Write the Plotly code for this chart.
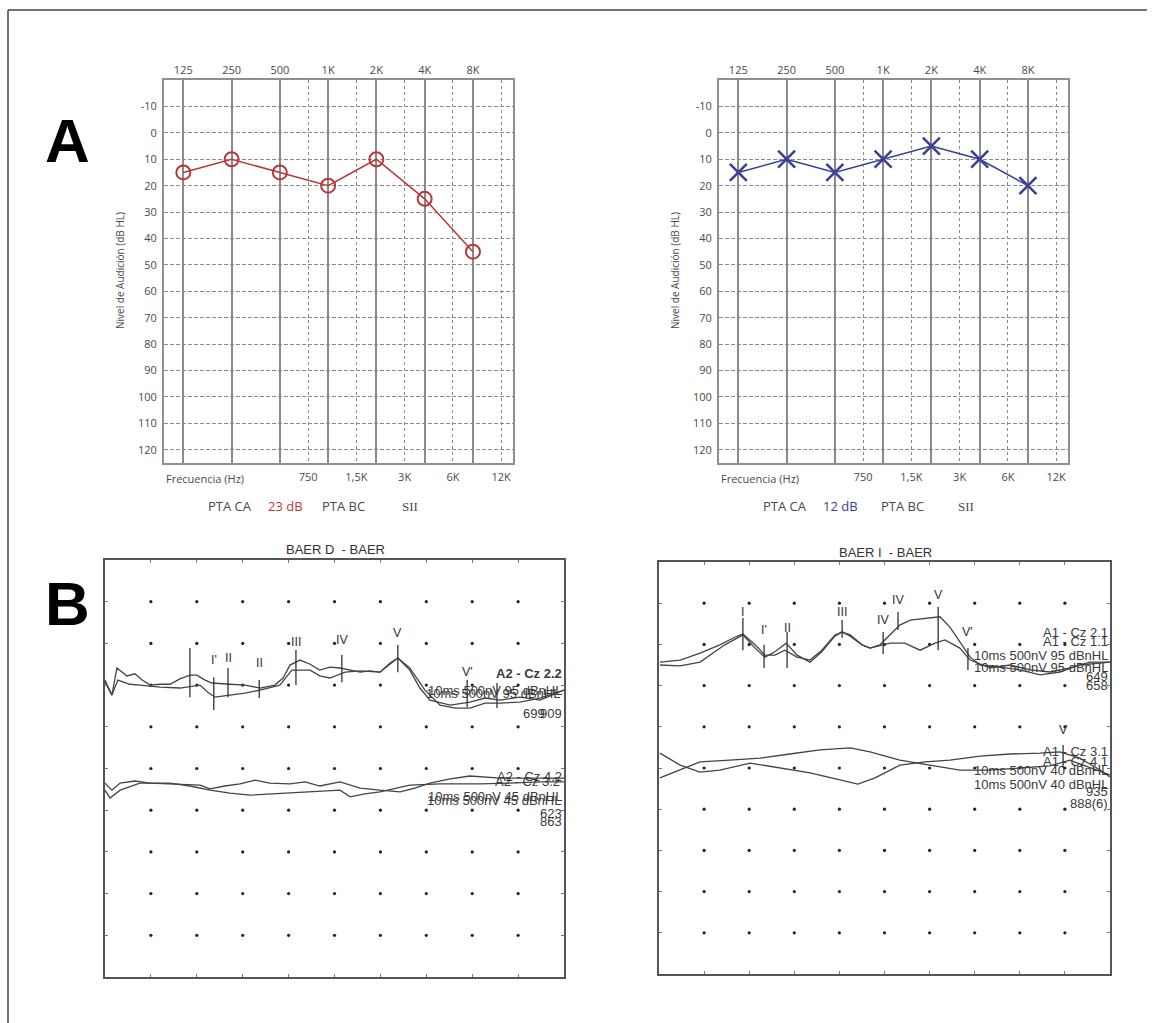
import numpy as np
import plotly.graph_objects as go

# ---------------- DATA ----------------
freqs = [125, 250, 500, 1000, 2000, 4000, 8000]
freq_labels_top = ["125", "250", "500", "1K", "2K", "4K", "8K"]
half_freqs = [750, 1500, 3000, 6000, 12000]
half_labels = ["750", "1,5K", "3K", "6K", "12K"]
db_ticks = list(range(-10, 121, 10))
db_labels = ["-10"] + [str(v) for v in range(0, 121, 10)]

od_db = [15, 10, 15, 20, 10, 25, 45]   # red circles
oi_db = [15, 10, 15, 10, 5, 10, 20]    # blue crosses

# BAER traces: time (ms), amplitude (grid divisions)
bd1_t = [0, 0.15, 0.26, 0.37, 0.48, 0.65, 0.81, 0.98, 1.20, 1.42, 1.63, 1.85, 2.00, 2.18, 2.33, 2.72, 3.05, 3.38, 3.70, 3.88,
         4.03, 4.25, 4.47, 4.68, 4.90, 5.12, 5.34, 5.56, 5.77, 5.99, 6.21, 6.38, 6.64, 6.86, 7.08, 7.52, 7.95, 8.28, 8.61, 9.04, 9.48, 10.0]
bd1_v = [7.07, 6.76, 7.41, 7.31, 7.22, 7.27, 7.12, 7.00, 7.02, 7.02, 7.15, 7.24, 7.24, 7.12, 7.05, 7.02, 7.00, 6.93, 7.00, 7.17,
         7.48, 7.60, 7.50, 7.36, 7.43, 7.41, 7.36, 7.31, 7.34, 7.31, 7.53, 7.65, 7.36, 6.93, 6.64, 6.52, 6.59, 6.69, 6.64, 6.71, 6.64, 6.88]
bd2_t = [0, 0.15, 0.28, 0.54, 0.76, 1.20, 1.63, 2.07, 2.24, 2.40, 2.72, 3.05, 3.38, 3.81, 4.07, 4.47, 4.68, 4.90, 5.23, 5.56,
         5.99, 6.21, 6.38, 6.64, 6.97, 7.30, 7.63, 7.95, 8.28, 8.61, 9.04, 9.48, 10.0]
bd2_v = [7.12, 6.76, 7.12, 7.02, 7.00, 6.95, 6.93, 7.00, 6.83, 6.71, 6.76, 6.81, 6.88, 7.00, 7.36, 7.36, 7.22, 7.17, 7.31, 7.34,
         7.31, 7.50, 7.65, 7.41, 6.88, 6.52, 6.45, 6.45, 6.57, 6.57, 6.59, 6.69, 6.88]
bd3_t = [0, 0.15, 0.33, 0.65, 0.98, 1.53, 2.07, 2.29, 2.61, 2.94, 3.27, 3.59, 4.03, 4.36, 4.68, 5.12, 5.34, 5.56, 5.99, 6.43,
         6.75, 7.08, 7.52, 7.95, 8.61, 9.26, 10.0]
bd3_v = [4.65, 4.48, 4.65, 4.70, 4.65, 4.63, 4.60, 4.51, 4.58, 4.63, 4.72, 4.65, 4.63, 4.68, 4.58, 4.68, 4.60, 4.53, 4.48, 4.44,
         4.53, 4.65, 4.75, 4.82, 4.77, 4.77, 4.77]
bd4_t = [0, 0.11, 0.33, 0.76, 1.42, 1.85, 2.29, 2.72, 3.16, 3.59, 4.03, 4.58, 5.12, 5.34, 5.66, 5.99, 6.64, 7.30, 8.17, 8.82, 9.48, 10.0]
bd4_v = [4.48, 4.29, 4.48, 4.65, 4.65, 4.58, 4.48, 4.41, 4.36, 4.39, 4.41, 4.46, 4.48, 4.32, 4.39, 4.44, 4.60, 4.63, 4.63, 4.65, 4.68, 4.68]

bi1_t = [0.02, 0.47, 0.91, 1.35, 1.69, 1.86, 2.13, 2.35, 2.57, 2.79, 3.06, 3.35, 3.61, 3.90, 4.06, 4.24, 4.50, 4.68, 4.90, 5.12,
         5.34, 5.57, 6.01, 6.23, 6.45, 6.67, 6.90, 7.12, 7.56, 8.00, 8.45, 8.89, 9.33, 10.0]
bi1_v = [7.57, 7.62, 7.79, 7.99, 8.18, 8.25, 7.99, 7.74, 7.74, 7.86, 7.69, 7.62, 7.86, 8.23, 8.30, 8.23, 7.99, 7.91, 7.99, 8.23,
         8.47, 8.59, 8.64, 8.67, 8.42, 8.06, 7.69, 7.50, 7.45, 7.38, 7.26, 7.33, 7.50, 7.57]
bi2_t = [0.02, 0.47, 0.91, 1.46, 1.86, 2.13, 2.35, 2.57, 2.82, 3.06, 3.35, 3.61, 3.90, 4.06, 4.24, 4.50, 4.68, 5.12, 5.45, 5.79,
         6.12, 6.34, 6.67, 6.90, 7.34, 7.78, 8.23, 8.67, 9.11, 9.56, 10.0]
bi2_v = [7.50, 7.48, 7.57, 7.99, 8.23, 7.91, 7.69, 7.82, 8.03, 7.74, 7.57, 7.82, 8.20, 8.30, 8.20, 7.99, 7.91, 8.03, 8.03, 7.86,
         8.03, 8.11, 7.91, 7.62, 7.43, 7.50, 7.38, 7.33, 7.43, 7.57, 7.57]
bi3_t = [0.02, 0.47, 0.91, 1.35, 2.02, 2.68, 3.35, 4.01, 4.41, 4.79, 5.34, 5.90, 6.45, 7.12, 7.78, 8.45, 8.89, 9.33, 9.78, 10.0]
bi3_v = [5.36, 5.07, 4.90, 4.95, 5.12, 5.00, 4.88, 4.71, 4.61, 4.76, 5.07, 5.15, 5.19, 5.29, 5.34, 5.36, 5.39, 5.24, 4.95, 4.78]
bi4_t = [0.02, 0.47, 0.91, 1.57, 2.24, 2.90, 3.57, 4.24, 4.68, 5.34, 6.01, 6.67, 7.34, 8.00, 8.67, 9.11, 9.56, 10.0]
bi4_v = [4.76, 4.95, 5.15, 5.19, 5.24, 5.34, 5.44, 5.49, 5.39, 5.19, 5.07, 4.95, 4.95, 5.00, 5.05, 5.19, 5.00, 4.83]

# Peak markers: (label, time, label_amp, line_lo, line_hi)
peaks_d = [("", 1.85, None, 6.71, 7.89), ("I'", 2.37, 7.60, 6.40, 7.19), ("II", 2.68, 7.65, 6.71, 7.41),
           ("II", 3.36, 7.53, 6.69, 7.12), ("III", 4.16, 8.03, 7.00, 7.84), ("IV", 5.16, 8.08, 7.07, 7.72),
           ("V", 6.38, 8.25, 7.31, 7.96), ("V'", 7.89, 7.31, 6.47, 7.12), ("", 8.54, None, 6.45, 7.05)]
peaks_i = [("I", 1.86, 8.79, 7.86, 8.64), ("I'", 2.33, 8.35, 7.43, 7.99), ("II", 2.84, 8.40, 7.43, 8.30),
           ("III", 4.06, 8.79, 8.16, 8.59), ("IV", 4.97, 8.59, 7.77, 8.30), ("IV", 5.30, 9.08, 8.35, 8.79),
           ("V", 6.19, 9.20, 7.86, 8.91), ("V'", 6.85, 8.30, 7.38, 7.91), ("V", 8.96, 5.92, 5.00, 5.56)]

# Channel texts: (text, amp, bold, xshift, yshift)
texts_d = [("A2 - Cz 2.2", 7.29, True, 0, 0), ("10ms 500nV 95 dBnHL", 6.88, False, 0, 0),
           ("10ms 500nV 95 dBnHL", 6.79, False, -2, 0), ("699", 6.33, False, -17, 0), ("909", 6.33, False, 0, 0),
           ("A2 - Cz 4.2", 4.82, False, 0, 0), ("A2 - Cz 3.2", 4.70, False, -2, 0),
           ("10ms 500nV 45 dBnHL", 4.34, False, 0, 0), ("10ms 500nV 45 dBnHL", 4.24, False, -1, 0),
           ("623", 3.93, False, 0, 0), ("863", 3.74, False, 0, 0)]
texts_i = [("A1 - Cz 2.1", 8.28, False, 0, 0), ("A1 - Cz 1.1", 8.06, False, 0, 0),
           ("10ms 500nV 95 dBnHL", 7.74, False, 0, 0), ("10ms 500nV 95 dBnHL", 7.45, False, 0, 0),
           ("649", 7.21, False, 0, 0), ("658", 7.01, False, 0, 0),
           ("A1 - Cz 3.1", 5.39, False, 0, 0), ("A1 - Cz 4.1", 5.15, False, 0, 0),
           ("10ms 500nV 40 dBnHL", 4.93, False, 0, 0), ("10ms 500nV 40 dBnHL", 4.61, False, 0, 0),
           ("935", 4.42, False, 0, 0), ("888(6)", 4.15, False, 0, 0)]

# ---------------- LAYOUT HELPERS ----------------
W, H = 1155, 1023
def fx(p):
    return p / W
def fy(p):
    return 1 - p / H

RED = "#b8393b"
BLUE = "#3a3f96"
GRID = "#8a8a8a"
TXT = "#4a4a4a"
AFONT = "Open Sans"
BFONT = "Liberation Sans"

fig = go.Figure()

# Audiogram traces
fig.add_trace(go.Scatter(x=freqs, y=od_db, mode="lines+markers", xaxis="x", yaxis="y",
                         line=dict(color=RED, width=1.5),
                         marker=dict(symbol="circle-open", size=14, color=RED, line=dict(width=2, color=RED)),
                         showlegend=False, hoverinfo="skip"))
fig.add_trace(go.Scatter(x=freqs, y=oi_db, mode="lines+markers", xaxis="x3", yaxis="y2",
                         line=dict(color=BLUE, width=1.5),
                         marker=dict(symbol="x-thin-open", size=17, color=BLUE, line=dict(width=2.5, color=BLUE)),
                         showlegend=False, hoverinfo="skip"))
# invisible carriers so the half-octave axes get drawn
for xa, ya in (("x2", "y"), ("x4", "y2")):
    fig.add_trace(go.Scatter(x=half_freqs, y=[None] * len(half_freqs), mode="markers", xaxis=xa, yaxis=ya,
                             marker=dict(opacity=0), showlegend=False, hoverinfo="skip"))

# BAER dot grids
gx, gy = np.meshgrid(np.arange(1, 10), np.arange(1, 10))
for xa, ya in (("x5", "y3"), ("x6", "y4")):
    fig.add_trace(go.Scatter(x=gx.ravel(), y=gy.ravel(), mode="markers", xaxis=xa, yaxis=ya,
                             marker=dict(size=3.2, color="#222"), showlegend=False, hoverinfo="skip"))

TRC = dict(color="#444", width=1.3)
for t, v in ((bd1_t, bd1_v), (bd2_t, bd2_v), (bd3_t, bd3_v), (bd4_t, bd4_v)):
    fig.add_trace(go.Scatter(x=t, y=v, mode="lines", xaxis="x5", yaxis="y3", line=TRC,
                             showlegend=False, hoverinfo="skip"))
for t, v in ((bi1_t, bi1_v), (bi2_t, bi2_v), (bi3_t, bi3_v), (bi4_t, bi4_v)):
    fig.add_trace(go.Scatter(x=t, y=v, mode="lines", xaxis="x6", yaxis="y4", line=TRC,
                             showlegend=False, hoverinfo="skip"))

# ---------------- AXES ----------------
xr = [np.log10(125) - 0.40 * np.log10(2), np.log10(8000) + 0.83 * np.log10(2)]
yr = [125, -20]
aud_top_y = [fy(463), fy(80)]
audL_x = [fx(164), fx(513)]
audR_x = [fx(719), fx(1068)]

def aud_x_main(dom, anchor):
    return dict(domain=dom, anchor=anchor, type="log", range=xr, side="top",
                tickmode="array", tickvals=freqs, ticktext=freq_labels_top,
                showgrid=True, gridcolor=GRID, gridwidth=1.6, griddash="solid",
                showline=True, mirror=True, linecolor="#8f8f8f", linewidth=2,
                ticks="", tickfont=dict(family=AFONT, size=11, color=TXT), zeroline=False, fixedrange=True)

def aud_x_half(over, anchor):
    return dict(overlaying=over, anchor=anchor, type="log", range=xr, side="bottom",
                tickmode="array", tickvals=half_freqs, ticktext=half_labels,
                showgrid=True, gridcolor=GRID, gridwidth=1.3, griddash="3px,3px",
                showline=False, ticks="outside", ticklen=4, tickcolor="rgba(0,0,0,0)",
                tickfont=dict(family=AFONT, size=11, color=TXT), zeroline=False, fixedrange=True)

def aud_y(anchor):
    return dict(domain=aud_top_y, anchor=anchor, range=yr, tickmode="array", tickvals=db_ticks,
                ticktext=db_labels,
                showgrid=True, gridcolor=GRID, gridwidth=1.3, griddash="4px,2px",
                showline=True, mirror=True, linecolor="#8f8f8f", linewidth=2,
                ticks="outside", ticklen=3, tickcolor="rgba(0,0,0,0)",
                tickfont=dict(family=AFONT, size=11, color=TXT), zeroline=False, fixedrange=True)

def baer_ax(dom, anchor):
    return dict(domain=dom, anchor=anchor, range=[0, 10], tickmode="array", tickvals=list(range(1, 10)),
                showticklabels=False, ticks="inside", ticklen=3, tickcolor="#777", tickwidth=1,
                showgrid=False, showline=True, mirror="ticks", linecolor="#555", linewidth=1.6,
                zeroline=False, fixedrange=True)

layout = dict(
    width=W, height=H, margin=dict(l=0, r=0, t=0, b=0),
    paper_bgcolor="white", plot_bgcolor="white", showlegend=False,
    xaxis=aud_x_main(audL_x, "y"),
    xaxis2=aud_x_half("x", "y"),
    xaxis3=aud_x_main(audR_x, "y2"),
    xaxis4=aud_x_half("x3", "y2"),
    yaxis=aud_y("x"),
    yaxis2=aud_y("x3"),
    xaxis5=baer_ax([fx(105), fx(564)], "y3"),
    yaxis3=baer_ax([fy(977), fy(560)], "x5"),
    xaxis6=baer_ax([fx(659), fx(1110)], "y4"),
    yaxis4=baer_ax([fy(974), fy(562)], "x6"),
)
fig.update_layout(**layout)

# ---------------- ANNOTATIONS & SHAPES ----------------
ann = []
shapes = []

def pann(x, y, text, size, color=TXT, family=AFONT, xanchor="center", yanchor="middle", angle=0, bold=False):
    t = "<b>%s</b>" % text if bold else text
    ann.append(dict(x=fx(x), y=fy(y), xref="paper", yref="paper", text=t, showarrow=False,
                    font=dict(family=family, size=size, color=color), xanchor=xanchor, yanchor=yanchor,
                    textangle=angle))

# Panel letters
pann(67, 140, "A", 62, color="#000", family=BFONT, bold=True)
pann(67, 603, "B", 62, color="#000", family=BFONT, bold=True)

# Audiogram annotations
for x0, col, val, xs in ((164, RED, "23 dB", (230, 285, 343, 410)), (719, BLUE, "12 dB", (785, 841, 902, 966))):
    pann(x0, 478, "Frecuencia (Hz)", 11, xanchor="left")
    pann(x0 - 44, 271, "Nivel de Audición (dB HL)", 10, angle=-90)
    pann(xs[0], 506, "PTA CA", 13)
    pann(xs[1], 506, val, 13, color=col)
    pann(xs[2], 506, "PTA BC", 13)
    pann(xs[3], 506, "SII", 13, family="Liberation Serif")

# BAER titles
pann(335, 549, "BAER D  - BAER", 13, color="#333", family=BFONT)
pann(885, 552, "BAER I  - BAER", 13, color="#333", family=BFONT)

# Peak markers
for peaks, xa, ya in ((peaks_d, "x5", "y3"), (peaks_i, "x6", "y4")):
    for lab, t, la, lo, hi in peaks:
        shapes.append(dict(type="line", xref=xa, yref=ya, x0=t, x1=t, y0=lo, y1=hi,
                           line=dict(color="#333", width=1.3)))
        if lab:
            ann.append(dict(x=t, y=la, xref=xa, yref=ya, text=lab, showarrow=False,
                            font=dict(family=BFONT, size=12.5, color="#333"), xanchor="center", yanchor="middle"))

# Channel texts
for texts, xa, ya in ((texts_d, "x5", "y3"), (texts_i, "x6", "y4")):
    for txt, amp, bold, xs, ys in texts:
        ann.append(dict(x=10, y=amp, xref=xa, yref=ya, text=("<b>%s</b>" % txt) if bold else txt,
                        showarrow=False, font=dict(family=BFONT, size=13, color="#3a3a3a"),
                        xanchor="right", yanchor="middle", xshift=xs, yshift=ys))

# Outer frame (top and left edges)
shapes.append(dict(type="line", xref="paper", yref="paper", x0=fx(8), x1=fx(1147), y0=fy(10), y1=fy(10),
                   line=dict(color="#444", width=1.5)))
shapes.append(dict(type="line", xref="paper", yref="paper", x0=fx(8), x1=fx(8), y0=fy(10), y1=0,
                   line=dict(color="#444", width=1.5)))

fig.update_layout(annotations=ann, shapes=shapes)
fig.write_html("out.html", config={"displayModeBar": False},
               post_script="document.body.style.margin='0px';document.body.style.overflow='hidden';")
